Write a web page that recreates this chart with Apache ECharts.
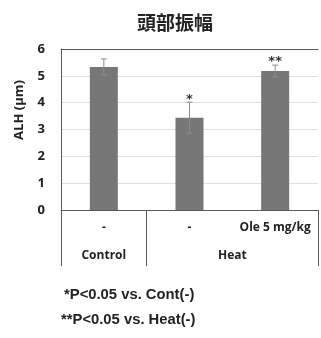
<!DOCTYPE html>
<html>
<head>
<meta charset="utf-8">
<script src="https://cdn.jsdelivr.net/npm/echarts@6/dist/echarts.min.js"></script>
<style>
  html, body { margin: 0; padding: 0; background: #fff; }
  #chart { width: 321px; height: 338px; }
</style>
</head>
<body>
<div id="chart"></div>
<script>
// values
const categories = ['-', '-', 'Ole 5 mg/kg']
const groupNames = ['Control', 'Heat']
const groupSpans = [1, 2]
const means = [5.33, 3.44, 5.18]
const errors = [0.30, 0.58, 0.22]
const marks = ['', '*', '**']
const yTicks = [0, 1, 2, 3, 4, 5, 6]
const notes = ['*P<0.05 vs. Cont(-)', '**P<0.05 vs. Heat(-)']

// group axis: 2 slots per category + 1, label in the middle of each group
const groupSlots = new Array(categories.length * 2 + 1).fill('')
const boundaryIdx = [0]
let start = 0
groupNames.forEach((g, i) => {
  groupSlots[start * 2 + groupSpans[i]] = g
  start += groupSpans[i]
  boundaryIdx.push(start * 2)
})

const frame = '#595959'
const labelFont = '"Open Sans", Lato, sans-serif'

const chart = echarts.init(document.getElementById('chart'))

chart.setOption({
  animation: false,
  title: {
    text: '頭部振幅',
    left: 170, top: 8,
    textAlign: 'center',
    textStyle: { fontFamily: '"Noto Sans CJK JP", sans-serif', fontSize: 19, fontWeight: 'bold', color: '#222' }
  },
  grid: { left: 61, top: 49, width: 268, height: 161, containLabel: false },
  xAxis: [
    {
      type: 'category', data: categories,
      axisLine: { show: true, lineStyle: { color: frame, width: 1 } },
      axisTick: { show: false },
      axisLabel: { margin: 12, interval: 0, fontFamily: labelFont, fontWeight: 'bold', fontSize: 12, color: '#222' },
      splitLine: { show: false }
    },
    {
      type: 'category', data: categories, position: 'top',
      axisLine: { show: true, lineStyle: { color: frame, width: 1 } },
      axisTick: { show: false }, axisLabel: { show: false }
    },
    {
      type: 'category', data: groupSlots, position: 'bottom', boundaryGap: false,
      axisLine: { show: false },
      axisTick: {
        show: true, length: 56, inside: false,
        interval: (i) => boundaryIdx.includes(i),
        lineStyle: { color: frame, width: 1 }
      },
      axisLabel: { margin: 40, interval: 0, fontFamily: labelFont, fontWeight: 'bold', fontSize: 12, color: '#222' }
    }
  ],
  yAxis: {
    type: 'value', min: yTicks[0], max: yTicks[yTicks.length - 1], interval: 1,
    axisLine: { show: true, lineStyle: { color: frame, width: 1 } },
    axisTick: { show: false },
    axisLabel: { margin: 16, fontFamily: labelFont, fontWeight: 'bold', fontSize: 13, color: '#222' },
    splitLine: { show: true, lineStyle: { color: '#e0e0e0', width: 1 } }
  },
  series: [
    {
      type: 'bar', data: means, barWidth: 28,
      itemStyle: { color: '#777777' }
    },
    {
      type: 'custom',
      data: means.map((m, i) => [i, m, errors[i], marks[i]]),
      z: 5,
      renderItem: (params, api) => {
        const x = api.value(0)
        const m = api.value(1)
        const e = api.value(2)
        const top = api.coord([x, m + e])
        const bot = api.coord([x, m - e])
        const cap = 3
        const style = { stroke: '#8c8c8c', lineWidth: 1 }
        const kids = [
          { type: 'line', shape: { x1: top[0], y1: top[1], x2: bot[0], y2: bot[1] }, style },
          { type: 'line', shape: { x1: top[0] - cap, y1: top[1], x2: top[0] + cap, y2: top[1] }, style },
          { type: 'line', shape: { x1: bot[0] - cap, y1: bot[1], x2: bot[0] + cap, y2: bot[1] }, style }
        ]
        const mk = marks[params.dataIndex]
        if (mk) {
          kids.push({
            type: 'text',
            style: {
              text: mk, x: top[0], y: top[1] - 3,
              align: 'center', verticalAlign: 'middle',
              font: 'bold 13px "DejaVu Sans", sans-serif', fill: '#333'
            }
          })
        }
        return { type: 'group', children: kids }
      }
    }
  ],
  graphic: [
    {
      type: 'text', x: 19, y: 110, rotation: Math.PI / 2,
      style: {
        text: 'ALH (µm)', align: 'center', verticalAlign: 'middle',
        font: 'bold 13px "Open Sans", sans-serif', fill: '#222'
      }
    },
    {
      type: 'text', left: 64, top: 287,
      style: { text: notes[0], font: 'bold 14.8px "Liberation Sans", sans-serif', fill: '#222' }
    },
    {
      type: 'text', left: 61, top: 312,
      style: { text: notes[1], font: 'bold 14.8px "Liberation Sans", sans-serif', fill: '#222' }
    }
  ]
})
</script>
</body>
</html>
